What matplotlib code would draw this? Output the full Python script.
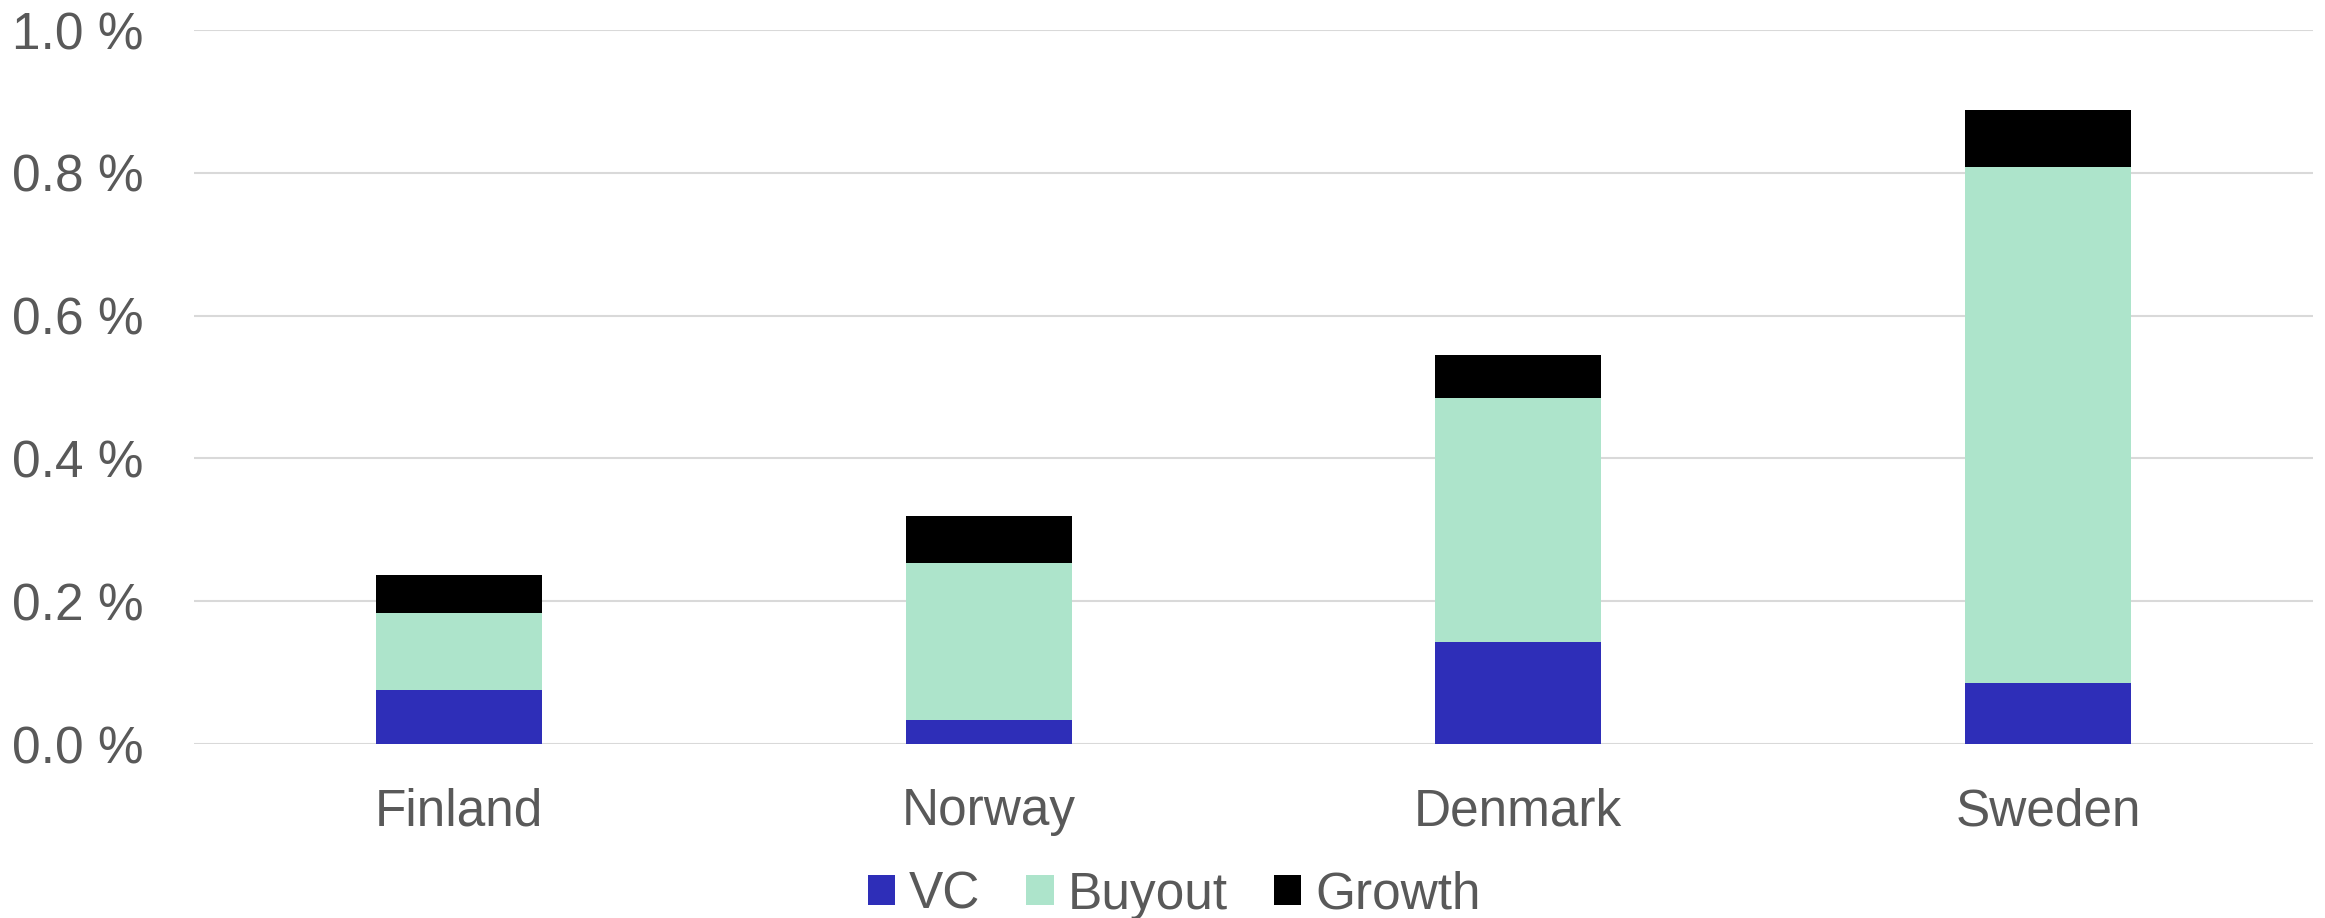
import matplotlib
matplotlib.use("Agg")
import matplotlib.pyplot as plt
import numpy as np

countries = ["Finland", "Norway", "Denmark", "Sweden"]
vc = [0.075, 0.033, 0.143, 0.086]
buyout = [0.108, 0.220, 0.341, 0.722]
growth = [0.053, 0.067, 0.061, 0.080]
yticks = [0.0, 0.2, 0.4, 0.6, 0.8, 1.0]
ytick_labels = ["0.0 %", "0.2 %", "0.4 %", "0.6 %", "0.8 %", "1.0 %"]

plt.rcParams['font.family'] = ['Liberation Sans', 'DejaVu Sans']
text_color = '#595959'
fs = 37

fig = plt.figure(figsize=(23.25, 9.18), dpi=100)
ax = fig.add_axes([194/2325, 1-744/918, (2313-194)/2325, (744-30)/918])

x = np.arange(len(countries))
w = 0.313
vc_a = np.array(vc); bo_a = np.array(buyout); gr_a = np.array(growth)
ax.bar(x, vc_a, w, color='#2e2eb8', label='VC', zorder=3)
ax.bar(x, bo_a, w, bottom=vc_a, color='#ade4cb', label='Buyout', zorder=3)
ax.bar(x, gr_a, w, bottom=vc_a + bo_a, color='#000000', label='Growth', zorder=3)

ax.set_xlim(-0.5, 3.5)
ax.set_ylim(0, 1.0)
ax.set_yticks(yticks)
ax.set_yticklabels(ytick_labels)
ax.set_xticks(x)
ax.set_xticklabels(countries)
ax.tick_params(axis='both', length=0, labelsize=fs, labelcolor=text_color)
ax.tick_params(axis='y', pad=36)
ax.tick_params(axis='x', pad=31)
ax.yaxis.grid(True, color='#d9d9d9', linewidth=1.5, zorder=0)
ax.set_axisbelow(True)
for s in ax.spines.values():
    s.set_visible(False)

fig.legend(loc='center', bbox_to_anchor=(1174/2325, 1-895/918), ncol=3,
           frameon=False, fontsize=fs, labelcolor=text_color,
           handlelength=0.53, handleheight=0.53, handletextpad=0.27,
           columnspacing=0.9, borderaxespad=0, borderpad=0)

fig.savefig("out.png", dpi=100)
